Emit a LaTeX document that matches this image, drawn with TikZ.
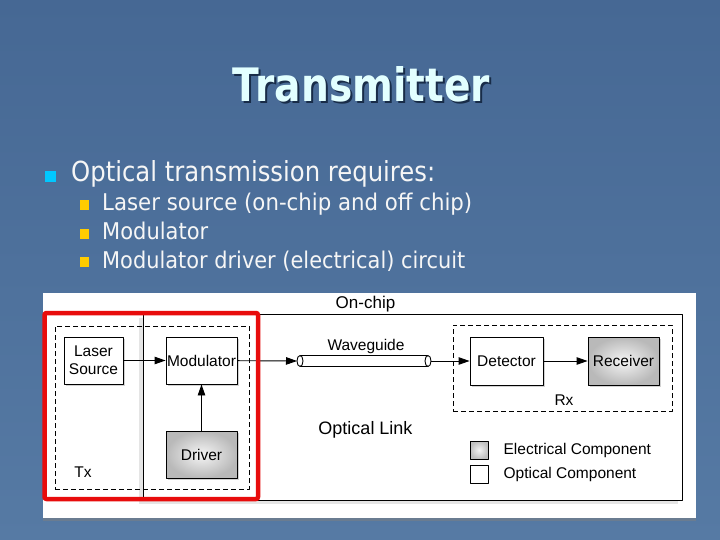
\documentclass[tikz,border=0pt]{standalone}
\usepackage{fontspec}
\setmainfont{DejaVu Sans}
\newfontfamily\diagfont{Liberation Sans}
\usetikzlibrary{positioning,shadows,arrows.meta}
\definecolor{slidetop}{RGB}{70,104,148}
\definecolor{slidebot}{RGB}{86,122,164}
\definecolor{titlecol}{RGB}{226,255,255}
\definecolor{titleshade}{RGB}{24,44,72}
\definecolor{bodytext}{RGB}{246,246,246}
\definecolor{cyanbul}{RGB}{0,200,255}
\definecolor{yellowbul}{RGB}{255,204,0}
\definecolor{redframe}{RGB}{232,12,12}
\newcommand{\fitto}[3]{\resizebox{#1}{#2}{#3}}
\newcommand{\shadowtitle}[1]{\makebox[0pt][l]{\kern0.5pt\raisebox{-0.5pt}{\color{titleshade}#1}}#1}
\tikzset{
  lbl/.style={inner sep=0pt,font=\diagfont\fontsize{15.5}{18}\selectfont},
  optbox/.style={lbl,draw,fill=white,line width=0.9pt,align=center,
    drop shadow={shadow xshift=1.5pt,shadow yshift=-1.5pt,opacity=0.35}},
  elecbox/.style={optbox,inner color=gray!8,outer color=gray!55},
  grpbox/.style={draw,line width=1pt,dash pattern=on 5pt off 3pt,inner sep=0pt},
  conn/.style={line width=0.9pt,->},
  body/.style={inner sep=0pt,anchor=base west,text=bodytext}
}
\begin{document}
\begin{tikzpicture}[x=1pt,y=-1pt,>={Triangle[length=11pt,width=7.5pt]},line join=round]
\shade[top color=slidetop,bottom color=slidebot] (0,0) rectangle (720,540);
\useasboundingbox (0,0) rectangle (720,540);
% title and bullets
\node[anchor=base,inner sep=0pt,text=titlecol] (title) at (361.5,101.5) {\fitto{257pt}{35pt}{\bfseries\shadowtitle{Transmitter}}};
\fill[cyanbul] (45,171) rectangle (56,182);
\node[body] (req) at (71,182) {\fitto{364pt}{21pt}{Optical transmission requires:}};
\foreach \yb/\w/\txt [count=\i] in {211/370/{Laser source (on-chip and off chip)},240/106/{Modulator},268/363/{Modulator driver (electrical) circuit}}{
  \fill[yellowbul] (80,\yb-11) rectangle (89,\yb-1);
  \node[body] (item\i) at (102,\yb) {\fitto{\w pt}{17.5pt}{\txt}};
}
% diagram
\node[fill=white,inner sep=0pt,minimum width=653pt,minimum height=225pt,
  drop shadow={shadow xshift=0pt,shadow yshift=-2.5pt,opacity=0.5}] (panel) at (369.5,405.5) {};
\node[draw,fill=white,line width=0.9pt,inner sep=0pt,minimum width=539pt,minimum height=186pt,
  drop shadow={shadow xshift=-4pt,shadow yshift=-4pt,opacity=0.2}] (chip) at (412.5,407) {};
\node[lbl,font=\diagfont\fontsize{17}{20}\selectfont] (onchip) at (365.5,304) {On-chip};
\node[grpbox,minimum width=194pt,minimum height=163pt] (txbox) at (152,407.5) {};
\node[grpbox,minimum width=219pt,minimum height=86pt] (rxbox) at (562.5,368) {};
\node[optbox,minimum width=59pt,minimum height=47pt] (laser) at (93.5,360.5) {Laser\\Source};
\node[optbox,minimum width=71pt,minimum height=47pt] (mod) at (201.5,360.5) {Modulator};
\node[elecbox,minimum width=71pt,minimum height=47pt] (driver) at (201.5,454.5) {Driver};
\node[optbox,minimum width=73pt,minimum height=48pt] (det) at (506.5,361) {Detector};
\node[elecbox,minimum width=71pt,minimum height=48pt] (recv) at (623.5,361) {Receiver};
\coordinate (wgin) at (300,361);
\coordinate (wgout) at (428,361);
\draw[line width=0.9pt] (300,355.5) -- (428,355.5) (300,366.5) -- (428,366.5);
\draw[line width=0.9pt,fill=white] (wgin) ellipse (3pt and 5.5pt) (wgout) ellipse (3pt and 5.5pt);
\draw[conn] (laser) -- (mod);
\draw[conn] (mod) -- ([xshift=-3pt]wgin);
\draw[conn] (driver) -- (mod);
\draw[conn] ([xshift=3pt]wgout) -- (det);
\draw[conn] (det) -- (recv);
\node[lbl] (wglabel) at (366,346) {Waveguide};
\node[lbl,font=\diagfont\fontsize{18}{20}\selectfont] (link) at (365.5,430) {Optical Link};
\node[lbl] (tx) at (83,472) {Tx};
\node[lbl] (rx) at (564,400) {Rx};
% legend
\node[draw,line width=0.9pt,inner color=gray!8,outer color=gray!50,minimum size=18pt,inner sep=0pt] (legelec) at (479,450) {};
\node[draw,line width=0.9pt,fill=white,minimum size=18pt,inner sep=0pt] (legopt) at (479,474.5) {};
\node[lbl,right=15pt of legelec] (legelectxt) {Electrical Component};
\node[lbl,right=15pt of legopt] (legopttxt) {Optical Component};
% highlight
\node[draw=redframe,line width=4.5pt,rounded corners=2pt,inner sep=0pt,minimum width=213.5pt,minimum height=186pt] (txframe) at (151.25,406) {};
\end{tikzpicture}
\end{document}
